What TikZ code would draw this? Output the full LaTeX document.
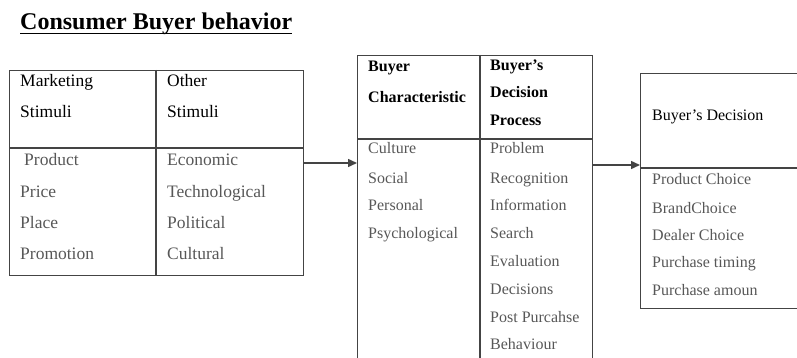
\documentclass[tikz,border=0pt]{standalone}
\usepackage{fontspec}
\setmainfont{Liberation Serif}
\usetikzlibrary{arrows.meta}

\definecolor{rule}{HTML}{444444}
\definecolor{itemgray}{HTML}{575757}

\tikzset{
	box/.style={draw=rule,line width=1.1pt,shape=rectangle,anchor=north west,inner sep=0pt},
	hd/.style={anchor=base west,inner sep=0pt,text=black,font=\fontsize{17.5}{20}\selectfont},
	hdb/.style={hd,font=\fontsize{16}{19}\selectfont\bfseries},
	hdc/.style={hd,font=\fontsize{16}{19}\selectfont},
	itm/.style={anchor=base west,inner sep=0pt,text=itemgray,font=\fontsize{17.5}{20}\selectfont},
	itms/.style={itm,font=\fontsize{16}{19}\selectfont},
	arr/.style={draw=rule,line width=1.5pt,-{Triangle[length=9pt,width=8pt]}}
}

\begin{document}
\begin{tikzpicture}[x=1pt,y=-1pt]
		\useasboundingbox (0,0) rectangle (797,358);
		\clip (0,0) rectangle (797,358);
		
		% title
		\node[anchor=base west,inner sep=0pt,font=\fontsize{24}{28}\selectfont\bfseries] (title) at (20,30) {Consumer Buyer behavior};
		\draw[line width=1.6pt] ([yshift=-3.5pt]title.base west) -- ([yshift=-3.5pt]title.base east);
		
		% stimuli table
		\node[box,minimum width=294pt,minimum height=205pt] (stim) at (9,70) {};
		\draw[draw=rule,line width=1.1pt] (9,148) -- (303,148);
		\draw[draw=rule,line width=1.1pt] (156,70) -- (156,275);
		\node[hd] (mark) at (20,87) {Marketing};
		\node[hd] (marks) at (20,118) {Stimuli};
		\node[hd] (oth) at (167,87) {Other};
		\node[hd] (oths) at (167,118) {Stimuli};
		\node[itm] (prod) at (24,166) {Product};
		\node[itm] (price) at (20,197) {Price};
		\node[itm] (place) at (20,228) {Place};
		\node[itm] (promo) at (20,259) {Promotion};
		\node[itm] (econ) at (167,166) {Economic};
		\node[itm] (tech) at (167,197) {Technological};
		\node[itm] (pol) at (167,228) {Political};
		\node[itm] (cult) at (167,259) {Cultural};
		
		% buyer's black box
		\node[box,minimum width=235pt,minimum height=330pt] (char) at (357,55) {};
		\draw[draw=rule,line width=1.1pt] (357,139) -- (592,139);
		\draw[draw=rule,line width=1.1pt] (480,55) -- (480,385);
		\node[hdb] (buy) at (368,72) {Buyer};
		\node[hdb] (chr) at (368,103) {Characteristic};
		\node[hdb] (bys) at (490,71) {Buyer’s};
		\node[hdb] (dcs) at (490,98) {Decision};
		\node[hdb] (proc) at (490,126) {Process};
		\node[itms] (cul) at (368,154) {Culture};
		\node[itms] (soc) at (368,183) {Social};
		\node[itms] (pers) at (368,211) {Personal};
		\node[itms] (psy) at (368,238) {Psychological};
		\node[itms] (prob) at (490,154) {Problem};
		\node[itms] (recog) at (490,183) {Recognition};
		\node[itms] (info) at (490,211) {Information};
		\node[itms] (srch) at (490,238) {Search};
		\node[itms] (eval) at (490,266) {Evaluation};
		\node[itms] (decs) at (490,294) {Decisions};
		\node[itms] (post) at (490,322) {Post Purcahse};
		\node[itms] (behv) at (490,349) {Behaviour};
		
		% buyer's decision
		\node[box,minimum width=170pt,minimum height=235pt] (dec) at (640,73) {};
		\draw[draw=rule,line width=1.1pt] (640,168) -- (810,168);
		\node[hdc] (bdec) at (652,121) {Buyer’s Decision};
		\node[itms] (pch) at (652,185) {Product Choice};
		\node[itms] (bch) at (652,213) {BrandChoice};
		\node[itms] (dch) at (652,240) {Dealer Choice};
		\node[itms] (ptim) at (652,267) {Purchase timing};
		\node[itms] (pamt) at (652,295) {Purchase amoun};
		
		% arrows between the tables
		\coordinate (a1) at (303,163);
		\coordinate (a2) at (592,165);
		\draw[arr] (a1) -- (char.west |- a1);
		\draw[arr] (a2) -- (dec.west |- a2);
		\end{tikzpicture}
\end{document}
